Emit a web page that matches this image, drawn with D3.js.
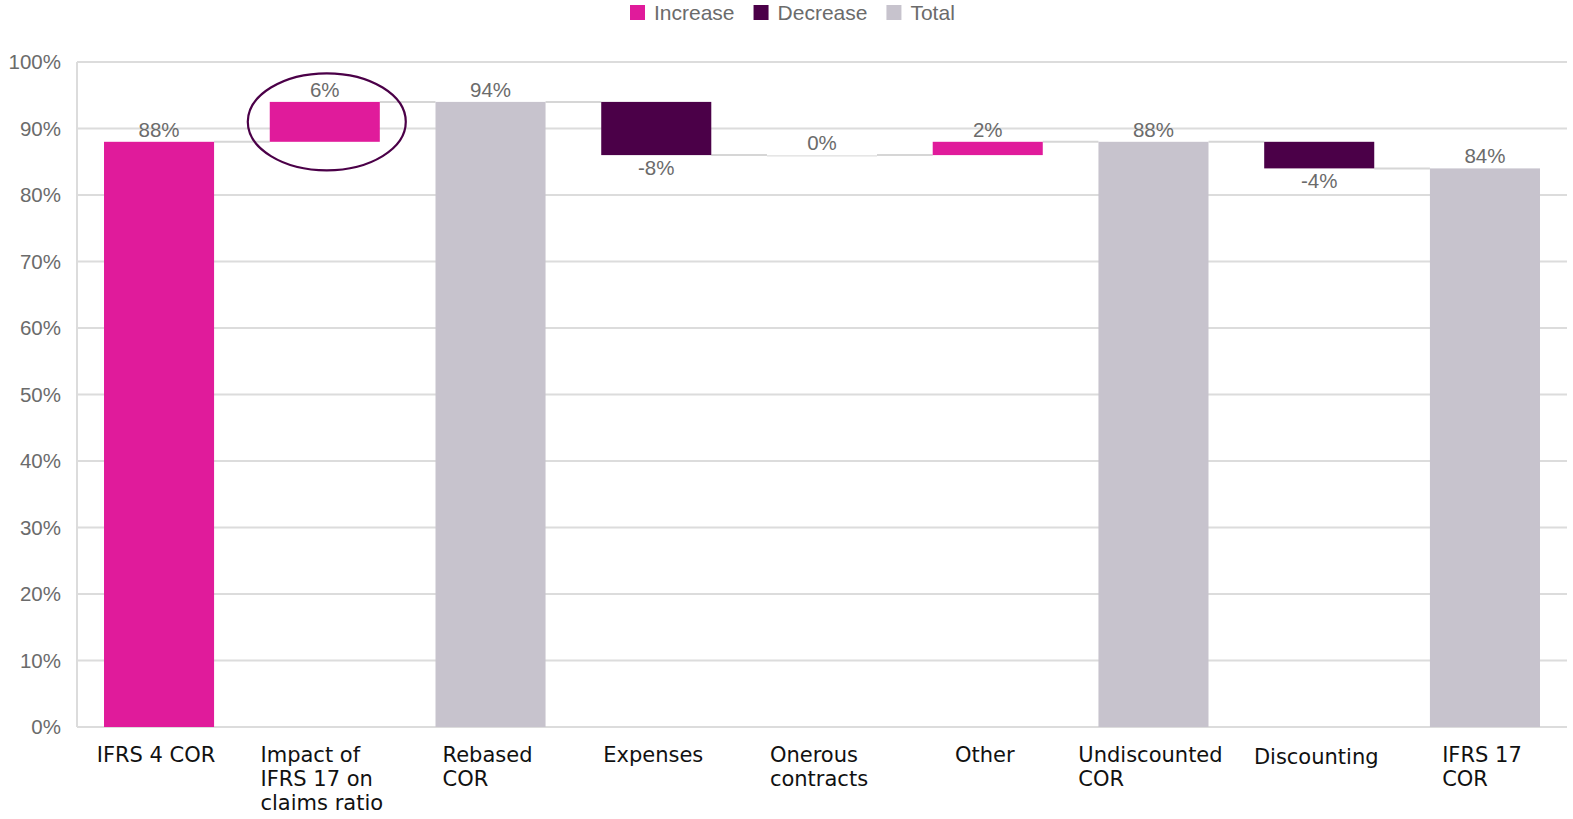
<!DOCTYPE html>
<html>
<head>
<meta charset="utf-8">
<script src="https://cdn.jsdelivr.net/npm/d3@7"></script>
<style>
  body { margin: 0; background: #fff; }
</style>
</head>
<body>
<script>
// waterfall data
let categories = [
    ["IFRS 4 COR"],
    ["Impact of", "IFRS 17 on", "claims ratio"],
    ["Rebased", "COR"],
    ["Expenses"],
    ["Onerous", "contracts"],
    ["Other"],
    ["Undiscounted", "COR"],
    ["Discounting"],
    ["IFRS 17", "COR"]
];
let values = [88, 6, 94, -8, 0, 2, 88, -4, 84];
let kinds = ["increase", "increase", "total", "decrease", "increase", "increase", "total", "decrease", "total"];
let yTicks = [0, 10, 20, 30, 40, 50, 60, 70, 80, 90, 100];
let legendItems = ["Increase", "Decrease", "Total"];

let W = 1573, H = 819;
let margin = { top: 62, right: 6, bottom: 92, left: 77 };

let colors = { increase: "#e01b9b", decrease: "#4b0048", total: "#c7c3cd" };
let legendColors = [colors.increase, colors.decrease, colors.total];

// running start / end of each bar
let bars = [];
let running = 0;
values.forEach(function (v, i) {
    let start, end;
    if (kinds[i] == "total") { start = 0; end = v; }
    else { start = running; end = running + v; }
    running = end;
    bars.push({ i: i, label: categories[i], value: v, kind: kinds[i], start: start, end: end });
});

let svg = d3.select("body").append("svg")
    .attr("width", W)
    .attr("height", H);

let x = d3.scaleBand()
    .domain(d3.range(categories.length))
    .range([margin.left, W - margin.right])
    .paddingInner(0.336)
    .paddingOuter(0.163);

let y = d3.scaleLinear()
    .domain([0, 100])
    .range([H - margin.bottom, margin.top]);

// gridlines
svg.append("g")
    .selectAll("line")
    .data(yTicks)
    .enter()
    .append("line")
    .attr("x1", margin.left)
    .attr("x2", W - margin.right)
    .attr("y1", function (d) { return y(d); })
    .attr("y2", function (d) { return y(d); })
    .attr("stroke", "#dcdcdc")
    .attr("stroke-width", 2);

svg.append("line")
    .attr("x1", margin.left).attr("x2", margin.left)
    .attr("y1", y(100)).attr("y2", y(0))
    .attr("stroke", "#dcdcdc")
    .attr("stroke-width", 2);

// y axis labels
let yAxis = svg.append("g")
    .attr("transform", "translate(" + (margin.left - 13) + ",0)")
    .call(d3.axisLeft(y).tickValues(yTicks).tickSize(0).tickFormat(function (d) { return d + "%"; }));
yAxis.select(".domain").remove();
yAxis.selectAll("text")
    .attr("font-family", "Liberation Sans, Arial, sans-serif")
    .attr("font-size", 20.5)
    .attr("fill", "#6b6b6b");

// connectors
let links = bars.slice(0, -1).map(function (b) { return { from: b.i, v: b.end }; });
svg.append("g")
    .selectAll("line")
    .data(links)
    .enter()
    .append("line")
    .attr("x1", function (d) { return x(d.from) + x.bandwidth(); })
    .attr("x2", function (d) { return x(d.from + 1); })
    .attr("y1", function (d) { return y(d.v); })
    .attr("y2", function (d) { return y(d.v); })
    .attr("stroke", "#d6d6d6")
    .attr("stroke-width", 2);

// bars
svg.append("g")
    .selectAll("rect")
    .data(bars)
    .enter()
    .append("rect")
    .attr("x", function (d) { return x(d.i); })
    .attr("width", x.bandwidth())
    .attr("y", function (d) { return y(Math.max(d.start, d.end)); })
    .attr("height", function (d) { return Math.max(Math.abs(y(d.start) - y(d.end)), 1.5); })
    .attr("fill", function (d) { return d.value == 0 ? "#e4e4e4" : colors[d.kind]; });

// value labels
svg.append("g")
    .selectAll("text")
    .data(bars)
    .enter()
    .append("text")
    .attr("x", function (d) { return x(d.i) + x.bandwidth() / 2; })
    .attr("y", function (d) {
        if (d.value < 0) return y(d.end) + 20;
        return y(Math.max(d.start, d.end)) - 5;
    })
    .attr("text-anchor", "middle")
    .attr("font-family", "Liberation Sans, Arial, sans-serif")
    .attr("font-size", 20.5)
    .attr("fill", "#6b6b6b")
    .text(function (d) { return d.value + "%"; });

// category labels: lines left-aligned, block roughly centred under the bar
let catG = svg.append("g")
    .selectAll("text")
    .data(bars)
    .enter()
    .append("text")
    .attr("font-family", "DejaVu Sans, Verdana, sans-serif")
    .attr("font-size", 21)
    .attr("fill", "#111");
catG.selectAll("tspan")
    .data(function (d) { return d.label; })
    .enter()
    .append("tspan")
    .attr("dy", function (d, j) { return j == 0 ? 0 : 24; })
    .text(function (d) { return d; });
catG.each(function (d) {
    let t = d3.select(this);
    let widest = 0;
    t.selectAll("tspan").each(function () { widest = Math.max(widest, this.getComputedTextLength()); });
    let left = x(d.i) + x.bandwidth() / 2 - widest / 2 - 3;
    let top = d.label.length == 1 && d.label[0] == "Discounting" ? y(0) + 37 : y(0) + 35;
    t.attr("y", top);
    t.selectAll("tspan").attr("x", left);
});

// annotation ellipse round the IFRS 17 impact bar
let hi = bars[1];
svg.append("ellipse")
    .attr("cx", x(hi.i) + x.bandwidth() / 2 + 2)
    .attr("cy", (y(hi.start) + y(hi.end)) / 2)
    .attr("rx", 79)
    .attr("ry", 48.5)
    .attr("fill", "none")
    .attr("stroke", "#4b0048")
    .attr("stroke-width", 2.2);

// legend
let lg = svg.append("g").attr("transform", "translate(630,0)");
let lx = 0;
legendItems.forEach(function (name, i) {
    lg.append("rect")
        .attr("x", lx).attr("y", 5)
        .attr("width", 15).attr("height", 15)
        .attr("fill", legendColors[i]);
    let t = lg.append("text")
        .attr("x", lx + 24).attr("y", 20)
        .attr("font-family", "Liberation Sans, Arial, sans-serif")
        .attr("font-size", 21)
        .attr("fill", "#6b6b6b")
        .text(name);
    lx += 24 + t.node().getComputedTextLength() + 19;
});
</script>
</body>
</html>
